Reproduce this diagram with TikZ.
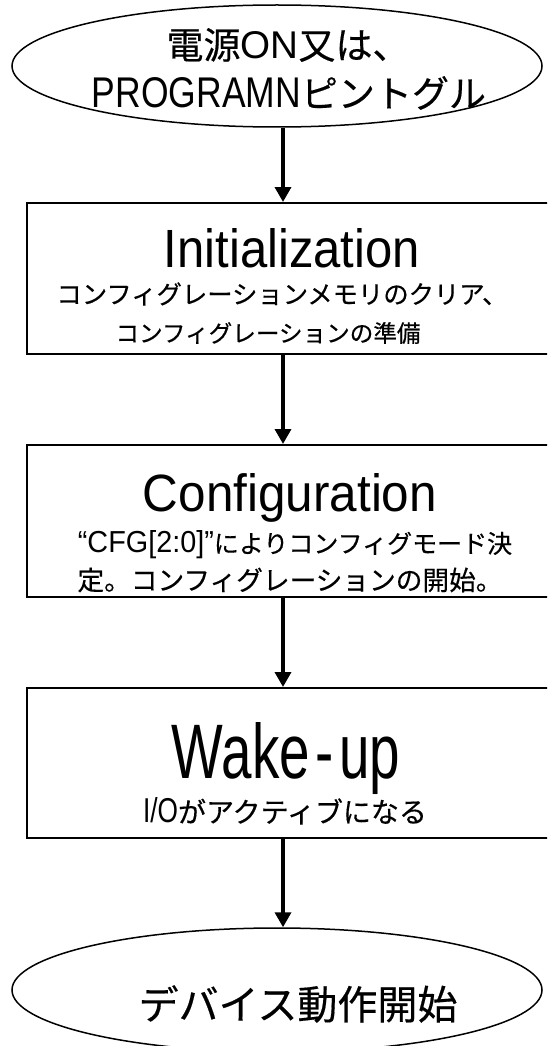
\documentclass[tikz,border=0pt]{standalone}
\usepackage{fontspec}
\setmainfont{Noto Sans CJK JP}[FakeBold=0.4]
\newfontfamily\latf{Liberation Sans}
\usetikzlibrary{shapes.geometric,arrows.meta}
\newcommand{\lat}[3]{\resizebox{#1pt}{#2pt}{\latf #3}}
\newcommand{\jw}[2]{\resizebox{#1pt}{!}{#2}}
\begin{document}
\begin{tikzpicture}[x=1pt,y=-1pt,
  oval/.style={draw,ellipse,line width=1.5pt,minimum width=530pt,minimum height=122pt,inner sep=0pt},
  stepbox/.style={draw,rectangle,line width=2pt,minimum width=528pt,inner sep=0pt},
  flow/.style={-{Triangle[width=16pt,length=15pt]},line width=3.5pt},
  lbl/.style={inner sep=0pt,anchor=center,font=\fontsize{25pt}{25pt}\selectfont},
  ttl/.style={inner sep=0pt,anchor=base}]
\clip (0,0) rectangle (547,1046);
\useasboundingbox (0,0) rectangle (547,1046);
\coordinate (ax) at (283,0);
% shapes
\node[oval] (top) at (277,66) {};
\node[stepbox,minimum height=151pt] (b1) at (291,278.5) {};
\node[stepbox,minimum height=152pt] (b2) at (291,521) {};
\node[stepbox,minimum height=150pt] (b3) at (291,763) {};
\node[oval,minimum height=124pt] (bot) at (277,990) {};
% texts
\node[lbl,font=\fontsize{37pt}{37pt}\selectfont] (t1) at (288,45) {電源\lat{58}{27}{ON}又は、};
\node[lbl,font=\fontsize{37pt}{37pt}\selectfont] (t2) at (289,93) {\lat{209}{30}{PROGRAMN}ピントグル};
\node[ttl] (i1) at (292,267) {\lat{256}{39}{Initialization}};
\node[lbl] (i2) at (282,294) {\jw{451}{コンフィグレーションメモリのクリア、}};
\node[lbl] (i3) at (268,333) {\jw{305}{コンフィグレーションの準備}};
\node[ttl] (c1) at (290,511) {\lat{294}{38}{Configuration}};
\node[lbl] (c2) at (295,545) {\lat{136}{22}{“CFG[2:0]”}によりコンフィグモード決};
\node[lbl] (c3) at (290,580) {\jw{425}{定。コンフィグレーションの開始。}};
\node[ttl] (w1) at (286,778) {\lat{228}{56}{Wake\kern0.1em-\kern0.1em up}};
\node[lbl,font=\fontsize{28pt}{28pt}\selectfont] (w2) at (285,811) {\lat{35}{25}{I/O}がアクティブになる};
\node[lbl,font=\fontsize{40pt}{40pt}\selectfont] (d1) at (298,1004) {デバイス動作開始};
% connectors
\draw[flow] (top.south -| ax) -- (b1.north -| ax);
\draw[flow] (b1.south -| ax) -- (b2.north -| ax);
\draw[flow] (b2.south -| ax) -- (b3.north -| ax);
\draw[flow] (b3.south -| ax) -- (bot.north -| ax);
\end{tikzpicture}
\end{document}
